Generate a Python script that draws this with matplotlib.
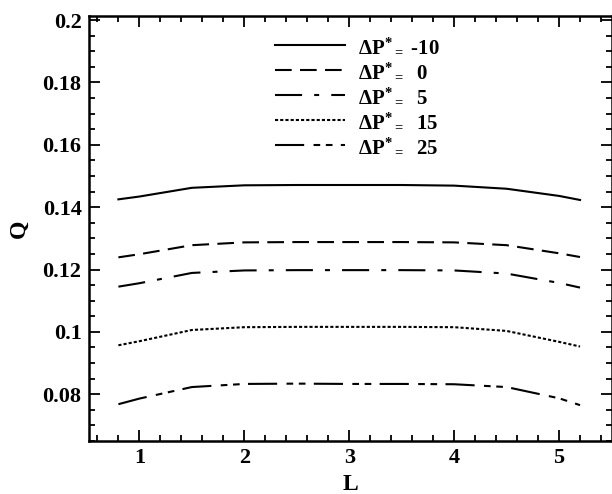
import matplotlib
matplotlib.use("Agg")
import matplotlib.pyplot as plt
from matplotlib.ticker import MultipleLocator

plt.rcParams['font.family'] = ['Liberation Serif', 'DejaVu Serif']
plt.rcParams['font.weight'] = 'bold'
plt.rcParams['mathtext.fontset'] = 'custom'
plt.rcParams['mathtext.rm'] = 'Liberation Serif:bold'
plt.rcParams['mathtext.it'] = 'Liberation Serif:bold'
plt.rcParams['mathtext.bf'] = 'Liberation Serif:bold'

# data
L = [0.8, 1.0, 1.5, 2.0, 2.5, 3.0, 3.5, 4.0, 4.5, 5.0, 5.2]
q_m10 = [0.1425, 0.1434, 0.1462, 0.1470, 0.1471, 0.1471, 0.1471, 0.1469, 0.1459, 0.1436, 0.1423]
q_0 = [0.1239, 0.1249, 0.1278, 0.1287, 0.1288, 0.1288, 0.1288, 0.1287, 0.1278, 0.1252, 0.1240]
q_5 = [0.1145, 0.1156, 0.1189, 0.1197, 0.1198, 0.1198, 0.1198, 0.1197, 0.1187, 0.1157, 0.1142]
q_15 = [0.0957, 0.0970, 0.1006, 0.1015, 0.1016, 0.1016, 0.1016, 0.1015, 0.1003, 0.0968, 0.0953]
q_25 = [0.0768, 0.0786, 0.0823, 0.0833, 0.0834, 0.0833, 0.0833, 0.0832, 0.0823, 0.0787, 0.0765]
dp_labels = ['-10', ' 0', ' 5', ' 15', ' 25']

fig = plt.figure(figsize=(6.12, 4.94), dpi=100)
ax = fig.add_axes([88.5/612, 53/494, 523/612, 425/494])

series = [q_m10, q_0, q_5, q_15, q_25]
styles = [
    dict(linestyle='-'),
    dict(dashes=(8, 4)),
    dict(dashes=(13, 5.8, 2.4, 5.8)),
    dict(dashes=(1.5, 1)),
    dict(dashes=(14, 4.5, 3.2, 2.7, 3.2, 4)),
]
for q, st, lab in zip(series, styles, dp_labels):
    ax.plot(L, q, color='black', lw=1.5,
            label=r'$\Delta\mathrm{P}^{*}{}_{=}$' + ' ' + lab, **st)

ax.set_xlim(0.515, 5.5)
ax.set_ylim(0.065, 0.2013)
ax.xaxis.set_major_locator(MultipleLocator(1))
ax.xaxis.set_minor_locator(MultipleLocator(0.2))
ax.yaxis.set_minor_locator(MultipleLocator(0.005))
ax.set_yticks([0.08, 0.1, 0.12, 0.14, 0.16, 0.18, 0.2])
ax.set_yticklabels(['0.08', '0.1', '0.12', '0.14', '0.16', '0.18', '0.2'])

ax.tick_params(which='both', direction='in', top=True, right=True, width=1.3)
ax.tick_params(which='major', length=8, labelsize=16, pad=5)
ax.tick_params(which='minor', length=4)
for sp in ax.spines.values():
    sp.set_linewidth(1.8)

ax.set_xlabel('L', fontsize=17, fontweight='bold', labelpad=4)
ax.set_ylabel('Q', fontsize=17, fontweight='bold', labelpad=9)

ax.legend(loc='upper left', bbox_to_anchor=(0.32, 0.995), frameon=False,
          fontsize=15, handlelength=3.4, handletextpad=0.6, labelspacing=0.24)

fig.savefig('out.png', dpi=100)
